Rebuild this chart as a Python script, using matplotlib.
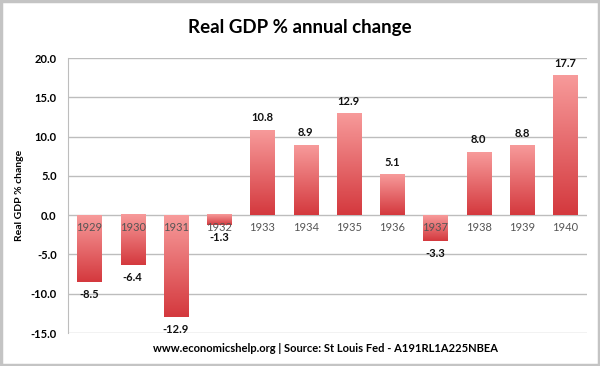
import numpy as np
import matplotlib.pyplot as plt
from matplotlib.colors import LinearSegmentedColormap
from matplotlib.patches import Rectangle

# data
years = ['1929', '1930', '1931', '1932', '1933', '1934', '1935', '1936',
         '1937', '1938', '1939', '1940']
change = [-8.5, -6.4, -12.9, -1.3, 10.8, 8.9, 12.9, 5.1, -3.3, 8.0, 8.8, 17.7]
yticks = [-15, -10, -5, 0, 5, 10, 15, 20]

plt.rcParams['font.family'] = ['Lato', 'DejaVu Sans']

fig = plt.figure(figsize=(6, 3.66), dpi=100)
ax = fig.add_axes([0.113, 0.090, 0.865, 0.7515])

# figure border
fig.patches.append(Rectangle((0.002, 0.003), 0.996, 0.994, transform=fig.transFigure,
                             fill=False, edgecolor='#c4c4c4', linewidth=2.5))

cmap = LinearSegmentedColormap.from_list('bar', ['#d4393e', '#f79a9a'])
grad = np.linspace(0, 1, 100).reshape(-1, 1)

x = np.arange(len(years))
w = 0.56
for xi, v in zip(x, change):
    y0, y1 = min(0, v), max(0, v)
    ax.imshow(grad, extent=[xi - w / 2, xi + w / 2, y0, y1], origin='lower',
              aspect='auto', cmap=cmap, zorder=3)
    off = 9 if v > 0 else -9
    ax.annotate('%.1f' % v, (xi, v), xytext=(0, off), textcoords='offset points',
                ha='center', va='center', fontsize=8, fontweight='bold', color='#111111',
                zorder=5)
    ax.text(xi, -0.9, years[xi], ha='center', va='top', fontsize=8, color='#555555', zorder=4)

ax.set_xlim(-0.5, len(years) - 0.5)
ax.set_ylim(-15, 20)
ax.set_yticks(yticks)
ax.set_yticklabels(['%.1f' % t for t in yticks], fontsize=8, fontweight='bold')
ax.set_xticks([])
ax.tick_params(axis='y', length=0, pad=8)
ax.grid(axis='y', color='#bdbdbd', linewidth=1, zorder=0)
ax.set_axisbelow(True)
for s in ['top', 'right', 'bottom']:
    ax.spines[s].set_visible(False)
ax.spines['left'].set_color('#bdbdbd')
ax.set_ylabel('Real GDP % change', fontsize=7.5, fontweight='bold')
ax.yaxis.set_label_coords(-0.085, 0.5)

fig.text(0.5, 0.925, 'Real GDP % annual change', ha='center', va='center',
         fontsize=13.5, fontweight='bold')
fig.text(0.543, 0.048, 'www.economicshelp.org | Source: St Louis Fed - A191RL1A225NBEA',
         ha='center', va='center', fontsize=8, fontweight='bold')

fig.savefig('out.png', dpi=100)
